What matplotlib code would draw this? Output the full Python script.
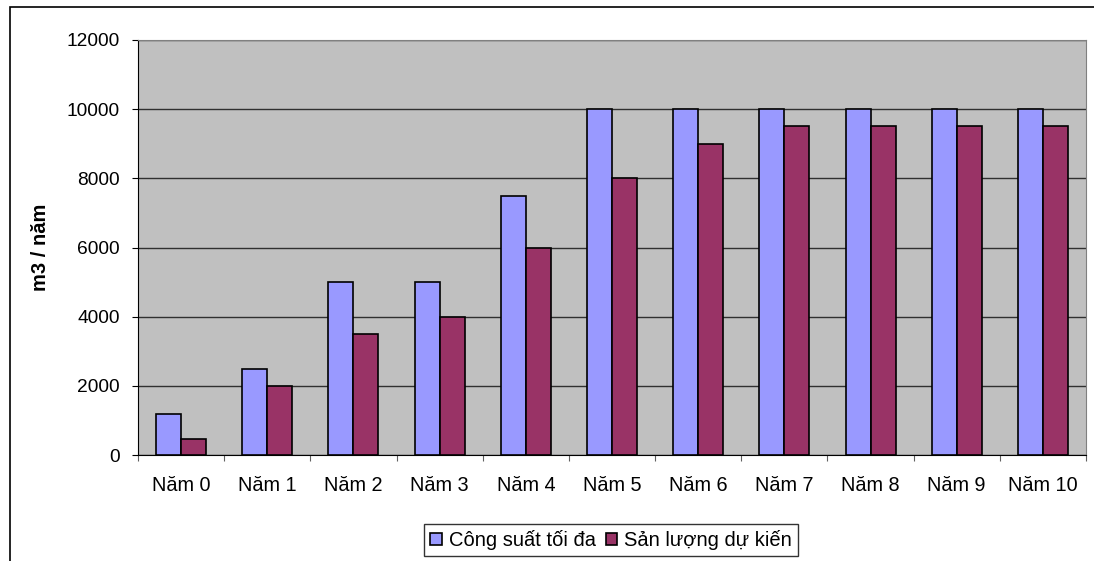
import matplotlib.pyplot as plt
import numpy as np
from matplotlib.patches import Rectangle

plt.rcParams['font.family'] = ['Liberation Sans', 'DejaVu Sans']

# Dữ liệu theo năm
nam = ['Năm 0', 'Năm 1', 'Năm 2', 'Năm 3', 'Năm 4', 'Năm 5',
       'Năm 6', 'Năm 7', 'Năm 8', 'Năm 9', 'Năm 10']
cong_suat = [1200, 2500, 5000, 5000, 7500, 10000, 10000, 10000, 10000, 10000, 10000]
san_luong = [450, 2000, 3500, 4000, 6000, 8000, 9000, 9500, 9500, 9500, 9500]

W, H = 1094, 561
fig = plt.figure(figsize=(W / 100, H / 100), dpi=100)
fig.patch.set_facecolor('white')

# Khung ngoài của biểu đồ (trái và trên)
fig.patches.append(Rectangle((10 / W, -0.1), 1.2, 1.1 - 7 / H,
                             transform=fig.transFigure, fill=False,
                             edgecolor='black', linewidth=1.2))

ax = fig.add_axes([138 / W, 1 - 455 / H, (1086 - 138) / W, (455 - 40) / H])
ax.set_facecolor('#C0C0C0')

x = np.arange(len(nam))
w = 0.29
ax.bar(x - w / 2, cong_suat, width=w, color='#9999FF', edgecolor='black',
       linewidth=1.2, label='Công suất tối đa', zorder=3)
ax.bar(x + w / 2, san_luong, width=w, color='#993366', edgecolor='black',
       linewidth=1.2, label='Sản lượng dự kiến', zorder=3)

ax.set_xlim(-0.5, len(nam) - 0.5)
ax.set_ylim(0, 12000)
ax.set_yticks(np.arange(0, 12001, 2000))
ax.set_yticklabels([str(v) for v in range(0, 12001, 2000)], fontsize=13.8)
ax.yaxis.grid(True, color='#303030', linewidth=1, zorder=1)
ax.set_axisbelow(True)

# Vạch chia trục x nằm giữa các nhóm
ax.set_xticks(np.arange(-0.5, len(nam), 1))
ax.set_xticklabels([])
ax.set_xticks(x, minor=True)
ax.set_xticklabels(nam, minor=True, fontsize=14.3)
ax.tick_params(axis='x', which='minor', length=0, pad=15)
ax.tick_params(axis='x', which='major', length=4.3, direction='out', color='#606060')
ax.tick_params(axis='y', length=4.3, direction='out', pad=8.6)

for s in ['top', 'right']:
    ax.spines[s].set_color('#808080')
ax.spines['left'].set_color('black')
ax.spines['bottom'].set_color('black')

ax.set_ylabel('m3 / năm', fontsize=14.5, fontweight='bold', labelpad=12)

leg = fig.legend(loc='center', bbox_to_anchor=(611 / W, 1 - 540 / H), ncol=2,
                 fontsize=14.5, frameon=True, fancybox=False, shadow=False,
                 handlelength=0.55, handleheight=0.55, handletextpad=0.35,
                 columnspacing=0.5, borderpad=0.3, borderaxespad=0)
leg.get_frame().set_edgecolor('black')
leg.get_frame().set_linewidth(1)

fig.savefig('out.png', dpi=100)
